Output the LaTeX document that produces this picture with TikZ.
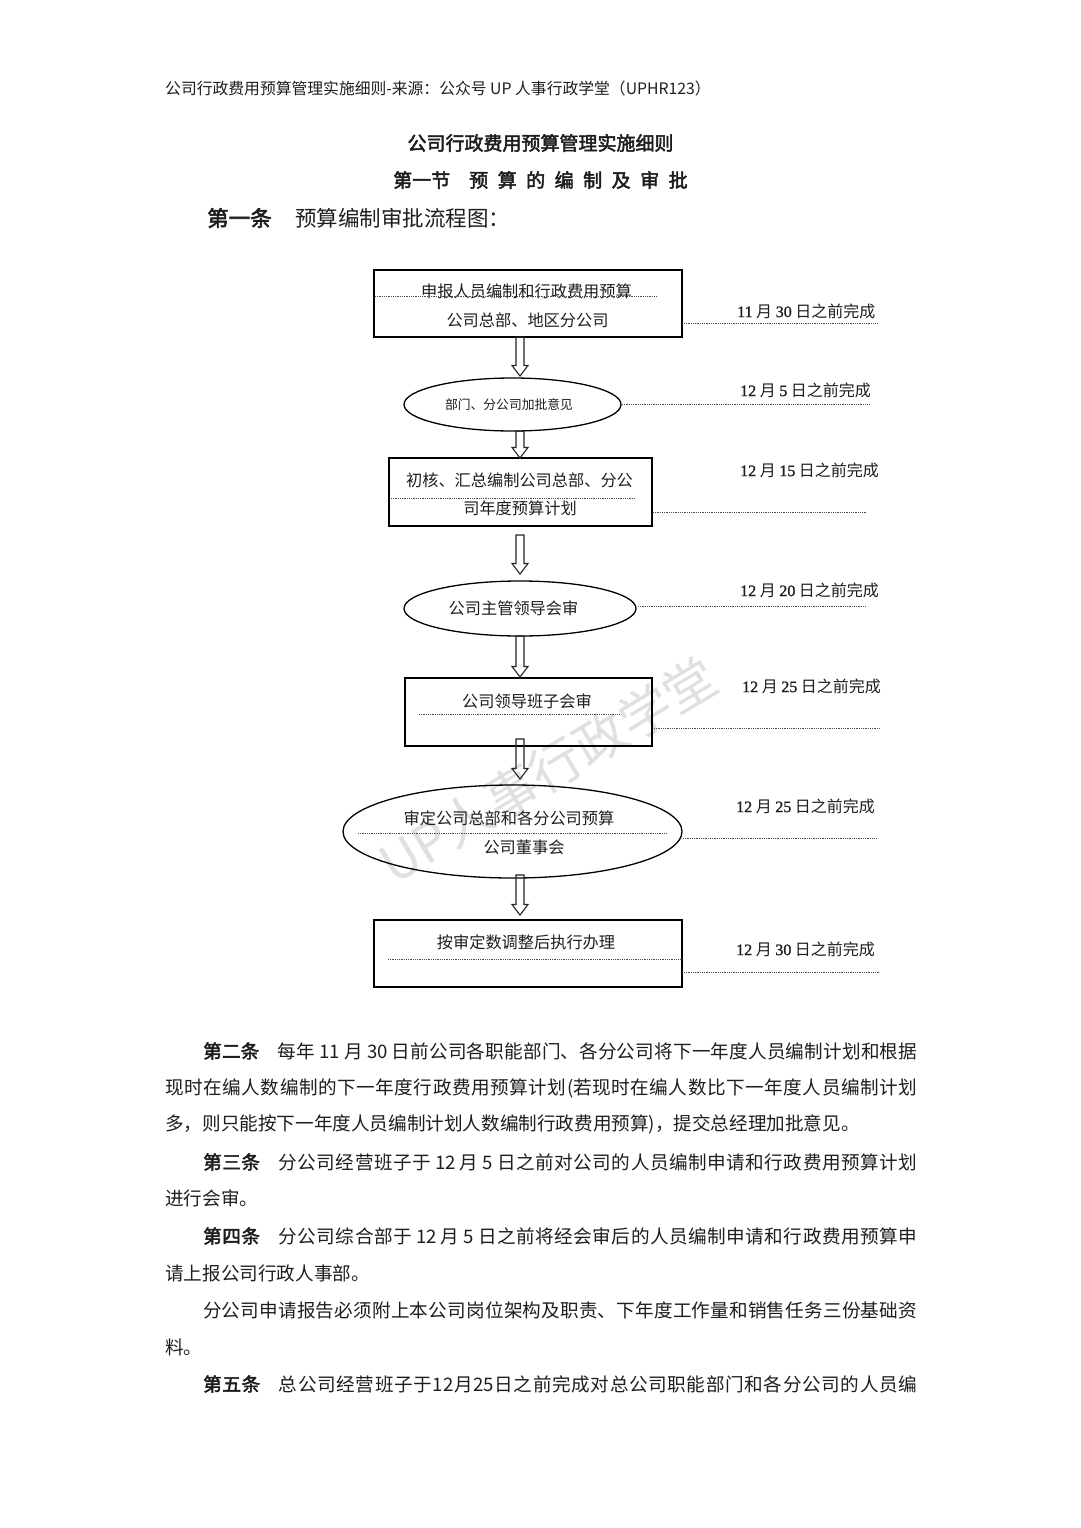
\documentclass[tikz,border=0pt]{standalone}
\usepackage{fontspec}
\setmainfont[AutoFakeBold=2.5]{Noto Sans CJK SC}
\newfontfamily\serifnum[AutoFakeBold=1.2]{Liberation Serif}
\usetikzlibrary{shapes.geometric,calc}
\XeTeXlinebreaklocale "zh"
\XeTeXlinebreakskip=0pt plus 1pt
\definecolor{txt}{HTML}{1E1E1E}
\newcommand\dn[1]{{\serifnum\bfseries #1}}
% one justified line of body text, stretched to width #1
\newcommand\jline[2]{\parbox{#1}{\parindent=0pt\parfillskip=0pt\leftskip=0pt\rightskip=0pt\XeTeXlinebreakskip=0pt plus 1fil #2}}
\tikzset{
  flowbox/.style={draw=black, line width=1.3pt, rectangle, inner sep=0pt, outer sep=0pt},
  flowell/.style={draw=black, line width=1.3pt, ellipse, inner sep=0pt, outer sep=0pt},
  flowtext/.style={inner sep=0pt, text=txt, font=\fontsize{16.2}{18}\selectfont},
  datetext/.style={inner sep=0pt, anchor=west, text=txt, font=\fontsize{16}{18}\selectfont},
  dotline/.style={line width=0.7pt, dash pattern=on 0.7pt off 1.1pt, draw=black!70},
  blockarr/.style={draw=black!85, line width=1.1pt, line join=miter},
  bodyline/.style={inner sep=0pt, anchor=west, text=txt, font=\fontsize{18.6}{20}\selectfont},
}
% hollow block arrow from node #1 (south) to node #2 (north);
% #3 = start offset below #1.south (px), #4 = tip offset below #2.north (px)
\newcommand\flowarrow[4]{%
  \draw[blockarr] let \p1=(#1.south), \p2=(#2.north) in
    ({516pt},{\y1-(#3)*1pt}) -- ({516pt},{\y2-(#4)*1pt+10.5pt})
    -- ({512pt},{\y2-(#4)*1pt+10.5pt}) -- ({520pt},{\y2-(#4)*1pt})
    -- ({528pt},{\y2-(#4)*1pt+10.5pt}) -- ({524pt},{\y2-(#4)*1pt+10.5pt})
    -- ({524pt},{\y1-(#3)*1pt}) -- cycle;}
\begin{document}
\begin{tikzpicture}[x=1pt,y=-1pt]
\useasboundingbox (0,0) rectangle (1080,1528);
\fill[white] (0,0) rectangle (1080,1528);

% watermark
\node[rotate=31, inner sep=0pt, text=black!12, font=\fontsize{52}{54}\selectfont] (wm) at (548,770) {UP人事行政学堂};

% header
\node[anchor=west, inner sep=0pt, text=txt, font=\fontsize{15.8}{17}\selectfont] (hdr) at (165,88)
  {公司行政费用预算管理实施细则-来源：公众号 UP 人事行政学堂（UPHR123）};
\node[inner sep=0pt, text=txt, font=\fontsize{19}{21}\selectfont\bfseries] (title) at (540.5,143)
  {公司行政费用预算管理实施细则};
\node[anchor=west, inner sep=0pt, text=txt, font=\fontsize{19}{21}\selectfont\bfseries] (sect) at (393,180)
  {第一节\hspace{1em}预\hspace{0.5em}算\hspace{0.5em}的\hspace{0.5em}编\hspace{0.5em}制\hspace{0.5em}及\hspace{0.5em}审\hspace{0.5em}批};
\node[anchor=west, inner sep=0pt, text=txt, font=\fontsize{21.5}{23}\selectfont] (art1) at (207,218)
  {\textbf{第一条}\hspace{1.1em}预算编制审批流程图：};

% flow shapes
\node[flowbox, minimum width=308pt, minimum height=67pt] (b1) at (528,303.5) {};
\node[flowell, minimum width=217pt, minimum height=53pt] (e1) at (512.5,404.5) {};
\node[flowbox, minimum width=263pt, minimum height=68pt] (b2) at (520.5,492) {};
\node[flowell, minimum width=232pt, minimum height=55pt] (e2) at (520,608.5) {};
\node[flowbox, minimum width=247pt, minimum height=68pt] (b3) at (528.5,712) {};
\node[flowell, minimum width=339pt, minimum height=93pt] (e3) at (512.5,831.5) {};
\node[flowbox, minimum width=308pt, minimum height=67pt] (b4) at (528,953.5) {};

% texts in shapes
\node[flowtext] (t1a) at (526.5,291) {申报人员编制和行政费用预算};
\node[flowtext] (t1b) at (527.5,320) {公司总部、地区分公司};
\node[flowtext, font=\fontsize{12.8}{14}\selectfont] (t2) at (509,405) {部门、分公司加批意见};
\node[flowtext] (t3a) at (519.5,480) {初核、汇总编制公司总部、分公};
\node[flowtext] (t3b) at (520,508) {司年度预算计划};
\node[flowtext] (t4) at (513.5,608) {公司主管领导会审};
\node[flowtext] (t5) at (527,701) {公司领导班子会审};
\node[flowtext] (t6a) at (509,818) {审定公司总部和各分公司预算};
\node[flowtext] (t6b) at (524,847) {公司董事会};
\node[flowtext] (t7) at (526,942) {按审定数调整后执行办理};

% dotted lines inside shapes
\draw[dotline] (375,296) -- (657,296);
\draw[dotline] (391,498) -- (635,498);
\draw[dotline] (419,714) -- (619,714);
\draw[dotline] (358,833) -- (667,833);
\draw[dotline] (388,959) -- (682,959);

% dotted lines to dates
\draw[dotline] (684,323) -- (878,323);
\draw[dotline] (622,404) -- (870,404);
\draw[dotline] (653,512) -- (866,512);
\draw[dotline] (638,606) -- (865,606);
\draw[dotline] (654,728) -- (880,728);
\draw[dotline] (683,838) -- (876,838);
\draw[dotline] (684,972) -- (880,972);

% dates
\node[datetext] (d1) at (737,311) {\dn{11} 月 \dn{30} 日之前完成};
\node[datetext] (d2) at (740,390) {\dn{12} 月 \dn{5} 日之前完成};
\node[datetext] (d3) at (740,470) {\dn{12} 月 \dn{15} 日之前完成};
\node[datetext] (d4) at (740,590) {\dn{12} 月 \dn{20} 日之前完成};
\node[datetext] (d5) at (742,686) {\dn{12} 月 \dn{25} 日之前完成};
\node[datetext] (d6) at (736,806) {\dn{12} 月 \dn{25} 日之前完成};
\node[datetext] (d7) at (736,949) {\dn{12} 月 \dn{30} 日之前完成};

% arrows
\flowarrow{b1}{e1}{0}{-2}
\flowarrow{e1}{b2}{0}{0}
\flowarrow{b2}{e2}{9}{-7}
\flowarrow{e2}{b3}{0}{-1}
\flowarrow{b3}{e3}{-7}{-6}
\flowarrow{e3}{b4}{-3}{-5}

% body text
\node[bodyline] (p1) at (203,1051) {\jline{714pt}{\textbf{第二条}\hspace{1em}每年 11 月 30 日前公司各职能部门、各分公司将下一年度人员编制计划和根据}};
\node[bodyline] (p2) at (165,1088) {\jline{752pt}{现时在编人数编制的下一年度行政费用预算计划(若现时在编人数比下一年度人员编制计划}};
\node[bodyline] (p3) at (165,1124) {多，则只能按下一年度人员编制计划人数编制行政费用预算)，提交总经理加批意见。};
\node[bodyline] (p4) at (203,1162) {\jline{714pt}{\textbf{第三条}\hspace{1em}分公司经营班子于 12 月 5 日之前对公司的人员编制申请和行政费用预算计划}};
\node[bodyline] (p5) at (165,1198) {进行会审。};
\node[bodyline] (p6) at (203,1236) {\jline{714pt}{\textbf{第四条}\hspace{1em}分公司综合部于 12 月 5 日之前将经会审后的人员编制申请和行政费用预算申}};
\node[bodyline] (p7) at (165,1273) {请上报公司行政人事部。};
\node[bodyline] (p8) at (203,1310) {\jline{714pt}{分公司申请报告必须附上本公司岗位架构及职责、下年度工作量和销售任务三份基础资}};
\node[bodyline] (p9) at (165,1347) {料。};
\node[bodyline] (p10) at (203,1384) {\jline{714pt}{\textbf{第五条}\hspace{1em}总公司经营班子于12月25日之前完成对总公司职能部门和各分公司的人员编}};
\end{tikzpicture}
\end{document}
